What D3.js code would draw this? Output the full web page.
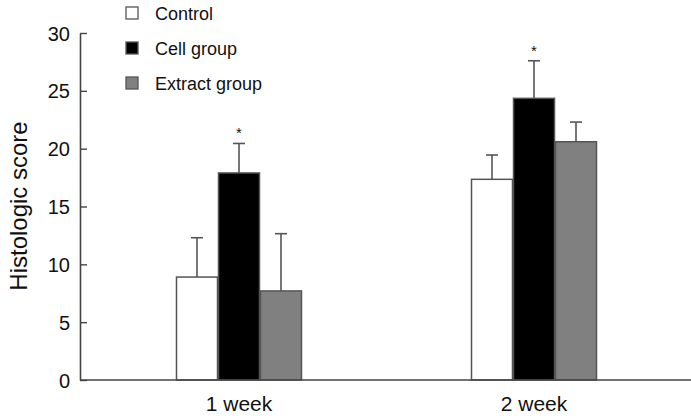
<!DOCTYPE html>
<html>
<head>
<meta charset="utf-8">
<script src="https://cdn.jsdelivr.net/npm/d3@7"></script>
<style>
  body { margin: 0; background: #fff; }
  svg text { font-family: "Liberation Sans", Arial, sans-serif; fill: #111; }
</style>
</head>
<body>
<svg id="chart" width="691" height="419"></svg>
<script>
// data
const groups = ['1 week', '2 week'];
const series = ['Control', 'Cell group', 'Extract group'];
const colors = ['#ffffff', '#000000', '#808080'];
const means = [
  [8.9, 17.9, 7.7],
  [17.35, 24.35, 20.6],
];
const errs = [
  [3.4, 2.55, 4.95],
  [2.1, 3.25, 1.7],
];
const starred = [[false, true, false], [false, true, false]];
const yTicks = [0, 5, 10, 15, 20, 25, 30];

const svg = d3.select('#chart');
const axisColor = '#444';

const y = d3.scaleLinear().domain([0, 30]).range([380, 33]);
const x = d3.scaleBand().domain(groups).range([91.5, 681.5]).padding(0);
const inner = d3.scaleBand().domain(series).range([0, 126]).padding(0);

// rows for the bars
const rows = [];
groups.forEach((g, gi) => {
  series.forEach((s, si) => {
    rows.push({ g, s, si, v: means[gi][si], e: errs[gi][si], star: starred[gi][si] });
  });
});
const bx = (d) => x(d.g) + x.bandwidth() / 2 - 63 + inner(d.s);

// error bars (drawn under the bars so only the upper half shows)
const eb = svg.append('g').attr('stroke', '#555').attr('stroke-width', 1.6);
eb.selectAll('line.v')
  .data(rows)
  .enter()
  .append('line')
  .attr('x1', (d) => bx(d) + inner.bandwidth() / 2)
  .attr('x2', (d) => bx(d) + inner.bandwidth() / 2)
  .attr('y1', (d) => y(d.v))
  .attr('y2', (d) => y(d.v + d.e));
eb.selectAll('line.c')
  .data(rows)
  .enter()
  .append('line')
  .attr('x1', (d) => bx(d) + inner.bandwidth() / 2 - 6)
  .attr('x2', (d) => bx(d) + inner.bandwidth() / 2 + 6)
  .attr('y1', (d) => y(d.v + d.e))
  .attr('y2', (d) => y(d.v + d.e));

// bars
svg.append('g')
  .selectAll('rect')
  .data(rows)
  .enter()
  .append('rect')
  .attr('x', (d) => bx(d) + 0.5)
  .attr('y', (d) => y(d.v))
  .attr('width', inner.bandwidth() - 1)
  .attr('height', (d) => y(0) - y(d.v))
  .attr('fill', (d) => colors[d.si])
  .attr('stroke', '#555')
  .attr('stroke-width', 1.5);

// asterisks
svg.append('g')
  .selectAll('text')
  .data(rows.filter((d) => d.star))
  .enter()
  .append('text')
  .attr('x', (d) => bx(d) + inner.bandwidth() / 2)
  .attr('y', (d) => y(d.v + d.e) - 5)
  .attr('text-anchor', 'middle')
  .attr('font-size', '15px')
  .text('*');

// y axis, ticks point inward
const yAxis = svg.append('g')
  .attr('transform', 'translate(80,0)')
  .call(d3.axisRight(y).tickValues(yTicks).tickSize(7).tickSizeOuter(0).tickFormat(''));
yAxis.select('.domain').attr('stroke', axisColor).attr('stroke-width', 1.6);
yAxis.selectAll('.tick line').attr('stroke', axisColor).attr('stroke-width', 1.4);
yAxis.selectAll('.tick')
  .append('text')
  .attr('x', -10)
  .attr('dy', '0.35em')
  .attr('text-anchor', 'end')
  .attr('font-size', '20px')
  .attr('fill', '#111')
  .text((d) => d);

// baseline across the whole width
svg.append('line')
  .attr('x1', 80).attr('x2', 691)
  .attr('y1', y(0)).attr('y2', y(0))
  .attr('stroke', axisColor).attr('stroke-width', 1.6);

// x category labels
const xAxis = svg.append('g')
  .attr('transform', `translate(0,${y(0)})`)
  .call(d3.axisBottom(x).tickSize(0).tickPadding(0));
xAxis.select('.domain').remove();
xAxis.selectAll('.tick text')
  .attr('font-size', '21px')
  .attr('fill', '#111')
  .attr('dy', null)
  .attr('y', 31);

// y title
svg.append('text')
  .attr('transform', 'translate(27,206) rotate(-90)')
  .attr('text-anchor', 'middle')
  .attr('font-size', '24px')
  .text('Histologic score');

// legend
const legend = svg.append('g').attr('transform', 'translate(126,7)');
series.forEach((s, i) => {
  legend.append('rect')
    .attr('x', 0)
    .attr('y', i * 35)
    .attr('width', 12)
    .attr('height', 12)
    .attr('fill', colors[i])
    .attr('stroke', '#555')
    .attr('stroke-width', 1.3);
  legend.append('text')
    .attr('x', 29)
    .attr('y', i * 35 + 12.5)
    .attr('font-size', '18px')
    .text(s);
});
</script>
</body>
</html>
